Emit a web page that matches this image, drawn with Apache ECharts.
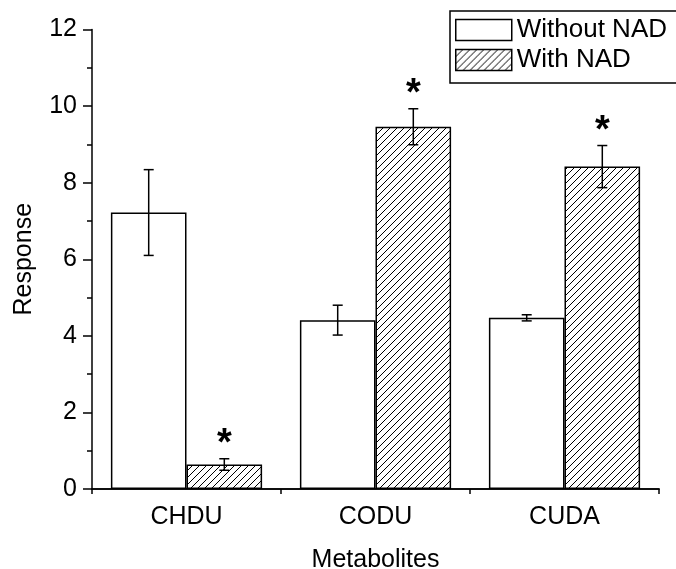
<!DOCTYPE html>
<html>
<head>
<meta charset="utf-8">
<script src="https://cdn.jsdelivr.net/npm/echarts@6/dist/echarts.min.js"></script>
<style>
html,body{margin:0;padding:0;background:#fff;}
#chart{width:676px;height:569px;}
</style>
</head>
<body>
<div id="chart"></div>
<script>
var categories=['CHDU','CODU','CUDA'];
var withoutVals=[7.22,4.41,4.47];
var withoutErr=[1.12,0.39,0.08];
var withVals=[0.64,9.46,8.42];
var withErr=[0.15,0.47,0.55];
var withSig=[1,1,1];
var FONT='Liberation Sans, Arial, sans-serif';

// hatch pattern ////
function makeHatch(){
	var s=7;
	var c=document.createElement('canvas');
	c.width=s;c.height=s;
	var ctx=c.getContext('2d');
	ctx.fillStyle='#fff';
	ctx.fillRect(0,0,s,s);
	ctx.strokeStyle='#000';
	ctx.lineWidth=1;
	ctx.beginPath();
	ctx.moveTo(0,s);ctx.lineTo(s,0);
	ctx.moveTo(-1,1);ctx.lineTo(1,-1);
	ctx.moveTo(s-1,s+1);ctx.lineTo(s+1,s-1);
	ctx.stroke();
	return c;
}
var hatch={image:makeHatch(),repeat:'repeat'};

function errData(vals,errs,sig){
	var out=[];
	for(var i=0;i<vals.length;i++){
		out.push([i,vals[i]-errs[i],vals[i]+errs[i],sig?sig[i]:0]);
	}
	return out;
}
function errRender(side){
	return function(params,api){
		var band=api.size([1,0])[0];
		var lo=api.coord([api.value(0),api.value(1)]);
		var hi=api.coord([api.value(0),api.value(2)]);
		var x=lo[0]+side*band*0.2;
		var cap=5;
		var st={stroke:'#000',lineWidth:1.5};
		var kids=[
			{type:'line',shape:{x1:x,y1:lo[1],x2:x,y2:hi[1]},style:st},
			{type:'line',shape:{x1:x-cap,y1:lo[1],x2:x+cap,y2:lo[1]},style:st},
			{type:'line',shape:{x1:x-cap,y1:hi[1],x2:x+cap,y2:hi[1]},style:st}
		];
		if(api.value(3)){
			kids.push({type:'text',x:x,y:hi[1]-14,style:{text:'*',fill:'#000',font:'bold 38px '+FONT,align:'center',verticalAlign:'middle'}});
		}
		return {type:'group',children:kids};
	};
}

var chart=echarts.init(document.getElementById('chart'));
var option={
	backgroundColor:'#fff',
	animation:false,
	textStyle:{fontFamily:FONT},
	grid:{left:92,right:17,top:29.5,bottom:80,outerBoundsMode:'none',containLabel:false},
	legend:{
		data:['Without NAD','With NAD'],
		orient:'vertical',
		left:450,top:11,
		padding:[6,40,10,5],
		itemGap:4,
		icon:'rect',
		itemWidth:56,itemHeight:21,
		itemStyle:{borderColor:'#000',borderWidth:1.5},
		borderColor:'#000',borderWidth:1.5,borderRadius:0,
		textStyle:{fontSize:26,color:'#000',fontFamily:FONT}
	},
	xAxis:[{
		type:'category',
		data:categories,
		name:'Metabolites',
		nameLocation:'middle',
		nameGap:59,
		nameTextStyle:{fontSize:25,color:'#000',fontFamily:FONT},
		axisLine:{lineStyle:{color:'#000',width:1.5}},
		axisTick:{alignWithLabel:true,length:10,lineStyle:{color:'#000',width:1.5}},
		axisLabel:{fontSize:25,color:'#000',margin:16,fontFamily:FONT},
		splitLine:{show:false}
	},{
		type:'category',
		data:categories,
		position:'bottom',
		axisLine:{show:true,lineStyle:{color:'#000',width:1.5}},
		axisTick:{show:true,length:5,lineStyle:{color:'#000',width:1.5}},
		axisLabel:{show:false},
		splitLine:{show:false}
	}],
	yAxis:{
		type:'value',
		min:0,max:12,interval:2,
		name:'Response',
		nameLocation:'middle',
		nameGap:55,
		nameTextStyle:{fontSize:25,color:'#000',fontFamily:FONT},
		axisLine:{show:true,lineStyle:{color:'#000',width:1.5}},
		axisTick:{show:true,length:9,lineStyle:{color:'#000',width:1.5}},
		minorTick:{show:true,splitNumber:2,length:5,lineStyle:{color:'#000',width:1.5}},
		axisLabel:{fontSize:25,color:'#000',margin:15,fontFamily:FONT},
		splitLine:{show:false}
	},
	series:[{
		name:'Without NAD',
		type:'bar',
		data:withoutVals,
		barGap:'0%',
		barCategoryGap:'20%',
		itemStyle:{color:'#fff',borderColor:'#000',borderWidth:1.5}
	},{
		name:'With NAD',
		type:'bar',
		data:withVals,
		barGap:'0%',
		barCategoryGap:'20%',
		itemStyle:{color:hatch,borderColor:'#000',borderWidth:1.5}
	},{
		type:'custom',
		renderItem:errRender(-1),
		data:errData(withoutVals,withoutErr,null),
		z:5
	},{
		type:'custom',
		renderItem:errRender(1),
		data:errData(withVals,withErr,withSig),
		z:5
	}]
};
chart.setOption(option);
</script>
</body>
</html>
